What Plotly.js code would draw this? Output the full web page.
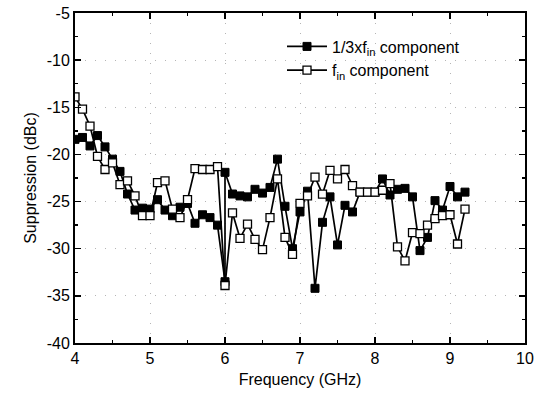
<!DOCTYPE html>
<html>
<head>
<meta charset="utf-8">
<script src="https://cdn.plot.ly/plotly-3.0.1.min.js"></script>
<style>html,body{margin:0;padding:0;background:#fff;}#chart{width:535px;height:401px;}</style>
</head>
<body>
<div id="chart"></div>
<script>
// 1/3 x f_in component (filled squares)
var freqThird = [4.0,4.1,4.2,4.3,4.4,4.5,4.6,4.7,4.8,4.9,5.0,5.1,5.2,5.3,5.4,5.5,5.6,5.7,5.8,5.9,6.0,6.0,6.1,6.2,6.3,6.4,6.5,6.6,6.7,6.8,6.9,7.0,7.1,7.2,7.3,7.4,7.5,7.6,7.7,7.8,7.9,8.0,8.1,8.2,8.3,8.4,8.5,8.6,8.7,8.8,8.9,9.0,9.1,9.2];
var supThird = [-18.4,-18.2,-19.1,-18.0,-19.2,-20.5,-21.8,-24.2,-25.9,-25.7,-25.8,-24.8,-25.9,-26.5,-25.6,-25.2,-27.3,-26.4,-26.7,-27.5,-33.5,-21.9,-24.2,-24.4,-24.5,-23.7,-24.1,-23.5,-20.5,-25.5,-30.0,-26.1,-23.9,-34.2,-27.2,-24.5,-29.6,-25.4,-26.1,-24.0,-24.0,-24.0,-22.6,-24.3,-23.7,-23.6,-24.5,-30.2,-28.8,-24.9,-25.9,-23.4,-24.5,-24.0];
// f_in component (open squares)
var freqFin = [4.0,4.1,4.2,4.3,4.4,4.5,4.6,4.7,4.8,4.9,5.0,5.1,5.2,5.3,5.4,5.5,5.6,5.7,5.8,5.9,6.0,6.1,6.2,6.3,6.4,6.5,6.6,6.7,6.8,6.9,7.0,7.1,7.2,7.3,7.4,7.5,7.6,7.7,7.8,7.9,8.0,8.1,8.2,8.3,8.4,8.5,8.6,8.7,8.8,8.9,9.0,9.1,9.2];
var supFin = [-13.9,-15.2,-17.0,-20.2,-21.6,-20.9,-23.2,-22.8,-24.4,-26.5,-26.5,-23.0,-22.8,-25.8,-26.7,-24.8,-21.5,-21.6,-21.6,-21.3,-33.9,-26.2,-28.9,-27.4,-29.0,-30.1,-26.7,-22.6,-28.8,-30.6,-25.2,-24.4,-22.4,-24.2,-21.7,-22.6,-21.6,-23.3,-24.0,-24.0,-24.0,-23.8,-23.1,-29.8,-31.3,-28.3,-28.4,-27.5,-26.8,-26.5,-26.4,-29.5,-25.8];
var seriesNames = ['1/3xf<sub>in</sub> component', 'f<sub>in</sub> component'];
var xTicks = [4,5,6,7,8,9,10];
var yTicks = [-40,-35,-30,-25,-20,-15,-10,-5];

var traces = [
  {x: freqThird, y: supThird, name: seriesNames[0], type: 'scatter', mode: 'lines+markers',
   line: {color: '#000', width: 1.7},
   marker: {symbol: 'square', size: 8, color: '#000', line: {color: '#000', width: 1}}},
  {x: freqFin, y: supFin, name: seriesNames[1], type: 'scatter', mode: 'lines+markers',
   line: {color: '#000', width: 1.7},
   marker: {symbol: 'square', size: 8, color: '#fff', line: {color: '#000', width: 1.3}}}
];

var fam = 'Liberation Sans, Arial, sans-serif';
var axisFont = {family: fam, size: 16, color: '#000'};
var layout = {
  width: 535, height: 401,
  margin: {l: 75, r: 10, t: 13, b: 58},
  paper_bgcolor: '#fff', plot_bgcolor: '#fff',
  showlegend: true,
  legend: {x: 0.46, y: 0.95, xanchor: 'left', yanchor: 'top', bgcolor: 'rgba(0,0,0,0)',
           font: {family: fam, size: 16, color: '#000'},
           tracegroupgap: 0, itemwidth: 40},
  xaxis: {
    range: [4, 10], tickvals: xTicks, ticktext: xTicks.map(String),
    ticks: 'inside', ticklen: 6, tickwidth: 1.3, tickcolor: '#000',
    showline: true, linecolor: '#000', linewidth: 2, mirror: 'ticks',
    showgrid: true, gridcolor: '#b5b5b5', griddash: '1px,9px', gridwidth: 1,
    zeroline: false, tickfont: axisFont,
    minor: {dtick: 0.5, ticks: 'inside', ticklen: 3, tickcolor: '#000', showgrid: false},
    title: {text: 'Frequency (GHz)', font: {family: fam, size: 16, color: '#000'}, standoff: 8}
  },
  yaxis: {
    range: [-40, -5], tickvals: yTicks, ticktext: yTicks.map(String),
    ticks: 'inside', ticklen: 6, tickwidth: 1.3, tickcolor: '#000',
    showline: true, linecolor: '#000', linewidth: 2, mirror: 'ticks',
    showgrid: true, gridcolor: '#b5b5b5', griddash: '1px,9px', gridwidth: 1,
    zeroline: false, tickfont: axisFont,
    minor: {dtick: 2.5, ticks: 'inside', ticklen: 3, tickcolor: '#000', showgrid: false},
    title: {text: 'Suppression (dBc)', font: {family: fam, size: 16, color: '#000'}, standoff: 6}
  }
};
Plotly.newPlot('chart', traces, layout, {displayModeBar: false, staticPlot: true});
</script>
</body>
</html>
